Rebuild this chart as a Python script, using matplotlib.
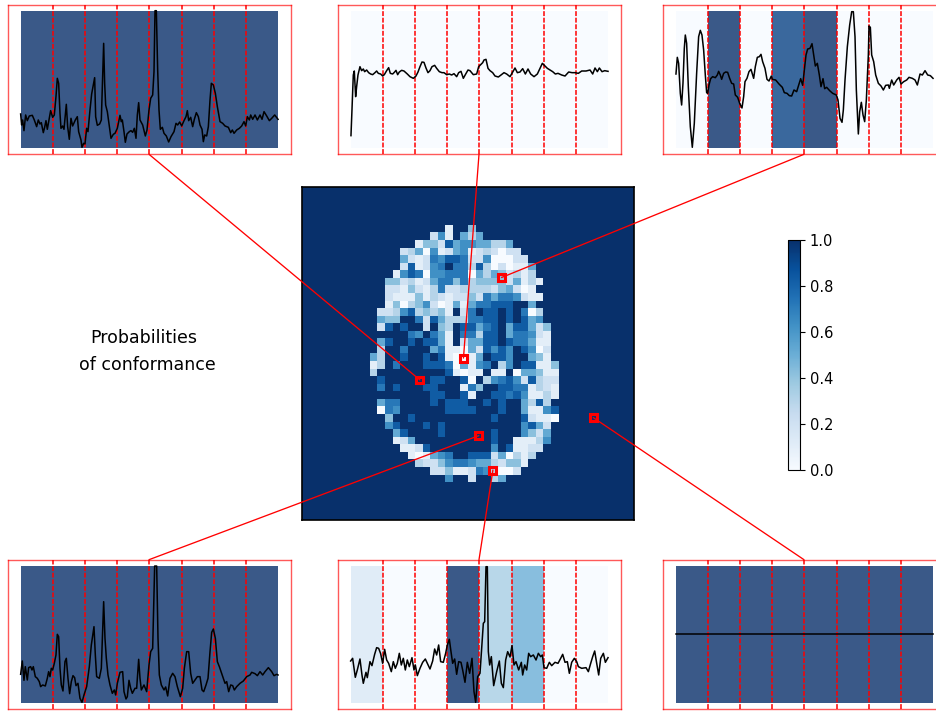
import numpy as np
import matplotlib
matplotlib.use("Agg")
import matplotlib.pyplot as plt
from matplotlib.patches import Rectangle, ConnectionPatch

W, H = 936, 711

# map of probabilities, each digit is an index in levels, everything else is 1.0
levels = [0, 0.1, 0.2, 0.3, 0.42, 0.52, 0.63, 0.72, 0.83, 1.0]
brain_start = [19, 17, 15, 13, 13, 13, 12, 11, 11, 11, 11, 10, 10, 10, 10, 10, 10, 9, 9, 9,
               10, 10, 10, 10, 10, 11, 11, 12, 12, 13, 14, 15, 17, 19]
brain_rows = [
    "1994", "2619535", "1442856655335", "2350612561232022", "52127688722600022",
    "281267977383020115", "1687066777053542313", "442312577473444425131",
    "22142137223333245201", "211141321224275776211", "14034620151577888995",
    "2236834341927988989703", "5449972853337788989856", "28989929439885789588524",
    "99997697519773889577621", "58998988519255889877511", "39979995711052868698602",
    "539989989810015988699541", "1397999888705167936988114", "3999999999810119119055411",
    "899999988998093678628322", "798999889991749988771321", "999999988998199887861131",
    "577999989888998989953839", "076999999888899989951168", "49989999999999899982110",
    "6899989899999999996852", "589999899999989996425", "125999999999989911136",
    "1128999999996981122", "10156799888250313", "322467765532441", "224112763002", "69929935",
]
first_row = 5

# picked voxels (col, row) in image coordinates
voxels = [(15.13, 25.0), (20.9, 22.1), (25.95, 11.46), (22.94, 32.35), (24.8, 36.9), (38.1, 29.97)]

# probability of each of the 8 windows
probas = [
    [1, 1, 1, 1, 1, 1, 1, 1],
    [0, 0, 0, 0, 0, 0, 0, 0],
    [0, 1, 0, 0.93, 1, 0, 0, 0],
    [1, 1, 1, 1, 1, 1, 1, 1],
    [0.15, 0, 0, 1, 0.35, 0.5, 0, 0],
    [1, 1, 1, 1, 1, 1, 1, 1],
]

# signals (x, y on a 847 x 449 frame, y going down)
sig1_x = [62, 65, 68, 72, 77, 82, 88, 97, 103, 110, 115, 120, 124, 130, 134, 138, 142, 146, 152, 158, 163, 168, 172, 176, 180, 183, 188, 192, 199, 203, 208, 213, 218, 226, 232, 236, 243, 246, 251, 255, 260, 264, 270, 275, 284, 287, 292, 299, 304, 311, 314, 317, 322, 328, 333, 340, 345, 352, 360, 364, 367, 372, 376, 381, 388, 393, 398, 403, 408, 412, 416, 420, 428, 436, 441, 447, 452, 458, 462, 465, 469, 473, 477, 481, 487, 492, 499, 506, 513, 522, 528, 533, 539, 545, 552, 558, 562, 566, 572, 578, 583, 589, 595, 600, 606, 610, 614, 620, 625, 630, 634, 640, 646, 652, 660, 668, 675, 685, 692, 697, 702, 710, 718, 725, 732, 737, 742, 748, 752, 758, 765, 772, 780, 786, 792, 800, 808, 815, 824, 834]
sig1_y = [342, 375, 360, 392, 345, 362, 348, 346, 360, 380, 360, 372, 368, 398, 382, 362, 388, 365, 332, 352, 345, 290, 235, 250, 340, 385, 378, 388, 313, 380, 418, 355, 378, 360, 350, 395, 420, 442, 430, 432, 385, 395, 330, 282, 233, 350, 376, 372, 360, 130, 250, 315, 335, 380, 415, 403, 400, 385, 346, 365, 360, 395, 427, 402, 395, 392, 397, 385, 415, 345, 308, 360, 375, 408, 390, 330, 295, 285, 215, 32, 32, 210, 330, 388, 382, 400, 408, 426, 410, 395, 370, 375, 366, 378, 362, 350, 332, 362, 352, 380, 358, 338, 350, 375, 388, 425, 405, 408, 380, 300, 250, 255, 280, 320, 365, 370, 378, 382, 398, 390, 400, 390, 385, 378, 365, 378, 350, 360, 345, 358, 345, 360, 345, 358, 335, 348, 362, 355, 345, 358]

sig2_x = [63, 66, 70, 73, 77, 80, 84, 90, 95, 100, 104, 110, 116, 122, 128, 135, 140, 145, 152, 158, 163, 170, 176, 181, 188, 194, 198, 203, 208, 215, 222, 232, 240, 250, 258, 264, 270, 276, 282, 288, 294, 300, 306, 314, 320, 328, 336, 342, 350, 358, 365, 372, 380, 386, 393, 400, 406, 414, 420, 430, 440, 446, 452, 458, 462, 468, 474, 480, 488, 495, 505, 513, 522, 530, 540, 547, 555, 562, 570, 578, 586, 594, 602, 612, 622, 630, 637, 645, 652, 660, 668, 676, 684, 695, 705, 716, 726, 735, 745, 755, 768, 780, 788, 795, 802, 808, 816, 824, 834]
sig2_y = [407, 330, 225, 213, 290, 260, 225, 200, 212, 207, 215, 210, 218, 222, 224, 218, 213, 220, 222, 228, 224, 212, 203, 220, 222, 216, 211, 224, 216, 211, 213, 222, 230, 235, 228, 216, 200, 186, 187, 204, 218, 212, 200, 196, 205, 215, 218, 218, 224, 222, 225, 221, 230, 218, 214, 235, 224, 210, 212, 224, 222, 200, 194, 188, 180, 178, 205, 212, 218, 228, 231, 225, 218, 222, 230, 218, 204, 218, 216, 206, 222, 207, 222, 230, 222, 205, 190, 198, 205, 210, 215, 222, 220, 225, 228, 216, 218, 218, 220, 213, 213, 210, 222, 204, 215, 204, 215, 212, 214]

sig3_x = [63, 67, 71, 76, 80, 84, 88, 91, 95, 100, 106, 112, 118, 125, 131, 136, 141, 146, 151, 155, 158, 162, 167, 173, 181, 187, 191, 196, 200, 206, 212, 218, 224, 230, 236, 241, 248, 254, 261, 266, 270, 276, 282, 288, 296, 301, 307, 313, 318, 323, 330, 336, 342, 349, 352, 362, 372, 382, 388, 396, 403, 410, 417, 425, 432, 437, 443, 448, 453, 458, 465, 471, 476, 481, 487, 493, 498, 504, 509, 515, 524, 533, 544, 549, 555, 561, 565, 570, 577, 584, 590, 595, 600, 604, 610, 614, 619, 624, 629, 634, 640, 642, 646, 650, 656, 662, 670, 678, 685, 692, 700, 703, 710, 716, 725, 732, 738, 746, 755, 762, 772, 780, 787, 795, 802, 810, 818, 826, 834]
sig3_y = [222, 172, 190, 280, 315, 250, 145, 105, 130, 260, 380, 442, 370, 220, 110, 91, 105, 150, 225, 278, 280, 255, 236, 230, 233, 225, 214, 225, 238, 220, 216, 217, 235, 250, 252, 285, 292, 310, 324, 290, 245, 235, 215, 208, 235, 200, 172, 170, 163, 185, 205, 238, 243, 228, 238, 240, 252, 262, 278, 280, 287, 288, 270, 275, 252, 236, 256, 210, 165, 147, 145, 131, 165, 198, 190, 225, 260, 236, 266, 262, 272, 280, 285, 300, 355, 367, 330, 240, 140, 75, 35, 35, 110, 270, 402, 335, 307, 345, 365, 300, 165, 78, 82, 165, 185, 225, 250, 258, 270, 256, 255, 265, 240, 255, 240, 232, 252, 245, 240, 232, 235, 240, 255, 222, 225, 212, 225, 227, 235]

sig4_x = [62, 67, 72, 76, 82, 86, 92, 96, 100, 106, 112, 118, 122, 128, 136, 142, 146, 150, 154, 158, 163, 168, 172, 176, 180, 184, 189, 195, 199, 204, 209, 214, 219, 224, 228, 234, 240, 246, 252, 260, 268, 274, 282, 286, 290, 298, 304, 311, 315, 319, 324, 330, 337, 343, 347, 352, 360, 368, 372, 378, 382, 387, 392, 397, 405, 410, 416, 420, 424, 432, 440, 447, 452, 458, 464, 470, 474, 478, 484, 492, 497, 503, 510, 518, 525, 532, 541, 548, 553, 560, 566, 572, 578, 585, 592, 600, 606, 611, 618, 624, 630, 635, 640, 646, 652, 658, 668, 675, 680, 686, 692, 698, 703, 710, 720, 730, 740, 750, 755, 765, 772, 780, 788, 795, 805, 815, 822, 830, 834]
sig4_y = [358, 318, 376, 335, 375, 338, 335, 345, 335, 365, 370, 380, 395, 390, 393, 370, 350, 365, 340, 345, 325, 300, 238, 245, 340, 390, 408, 320, 310, 370, 416, 380, 362, 368, 392, 385, 430, 442, 420, 395, 335, 270, 215, 300, 365, 370, 340, 140, 250, 310, 360, 390, 415, 405, 420, 385, 352, 350, 410, 432, 425, 376, 400, 415, 400, 400, 313, 370, 405, 390, 410, 330, 290, 280, 33, 33, 250, 360, 390, 405, 396, 423, 370, 355, 365, 395, 425, 400, 340, 290, 290, 355, 385, 375, 365, 365, 405, 410, 390, 370, 290, 232, 222, 250, 320, 335, 365, 385, 380, 410, 390, 392, 405, 395, 385, 378, 365, 360, 352, 356, 362, 350, 360, 350, 338, 350, 362, 358, 360]

sig5_x = [62, 68, 76, 82, 90, 96, 100, 108, 112, 120, 126, 134, 140, 146, 152, 158, 164, 170, 176, 184, 190, 196, 202, 208, 214, 220, 226, 232, 238, 246, 252, 256, 262, 270, 278, 286, 292, 300, 308, 314, 320, 326, 332, 340, 347, 352, 358, 363, 368, 374, 380, 386, 393, 398, 405, 412, 419, 426, 432, 437, 443, 450, 455, 460, 464, 468, 472, 475, 479, 484, 491, 500, 508, 514, 520, 527, 533, 540, 546, 552, 558, 566, 574, 578, 584, 590, 596, 602, 610, 618, 625, 632, 637, 642, 650, 658, 665, 675, 684, 692, 698, 705, 712, 718, 725, 733, 740, 745, 755, 768, 775, 782, 788, 794, 800, 806, 812, 820, 826, 834]
sig5_y = [318, 310, 367, 345, 312, 360, 385, 352, 368, 320, 332, 298, 278, 280, 296, 325, 283, 315, 325, 350, 320, 340, 325, 295, 330, 310, 345, 315, 335, 308, 345, 330, 362, 340, 322, 312, 325, 342, 318, 282, 300, 270, 320, 322, 295, 270, 253, 290, 325, 312, 358, 320, 322, 345, 382, 322, 355, 310, 410, 442, 365, 355, 280, 205, 200, 35, 35, 290, 330, 305, 392, 350, 318, 385, 398, 315, 290, 306, 272, 330, 320, 345, 322, 360, 330, 345, 295, 305, 300, 315, 295, 305, 300, 338, 340, 322, 332, 322, 325, 310, 298, 322, 320, 355, 322, 310, 320, 335, 340, 338, 350, 325, 305, 288, 325, 360, 310, 295, 322, 308]

sig6_x = [62, 834]
sig6_y = [238, 238]

signals = [(sig1_x, sig1_y), (sig2_x, sig2_y), (sig3_x, sig3_y),
           (sig4_x, sig4_y), (sig5_x, sig5_y), (sig6_x, sig6_y)]

# position of the frames in pixels
frame_left = [8.3, 338.3, 663.3, 8.3, 338.3, 663.3]
frame_top = [4.7, 4.7, 4.7, 559.7, 559.7, 559.7]
frame_w = 282.4
frame_h = 149.6


def add_axes_px(fig, x0, y0, w, h):
    return fig.add_axes([x0 / W, 1 - (y0 + h) / H, w / W, h / H])


grid = np.ones((44, 44))
for i, row in enumerate(brain_rows):
    vals = [levels[int(c)] for c in row]
    grid[first_row + i, brain_start[i]:brain_start[i] + len(vals)] = vals

fig = plt.figure(figsize=(W / 100, H / 100), dpi=100)
cmap = plt.get_cmap("Blues")

ax = add_axes_px(fig, 302, 187, 332, 333)
im = ax.imshow(grid, cmap=cmap, vmin=0, vmax=1, aspect="auto", interpolation="nearest")
ax.set_xticks([])
ax.set_yticks([])
for s in ax.spines.values():
    s.set_linewidth(1.2)

for c, r in voxels:
    ax.add_patch(Rectangle((c - 0.46, r - 0.46), 0.92, 0.92, fill=False,
                           edgecolor="red", linewidth=2.2, zorder=5))

# the 6 signals
edges = np.linspace(62, 834, 9)
for k in range(6):
    a = add_axes_px(fig, frame_left[k], frame_top[k], frame_w, frame_h)
    a.set_xlim(25, 872)
    a.set_ylim(463, 14)
    a.set_xticks([])
    a.set_yticks([])
    for s in a.spines.values():
        s.set_edgecolor("red")
        s.set_alpha(0.65)
        s.set_linewidth(1.0)
    for j in range(8):
        a.axvspan(edges[j], edges[j + 1], ymin=(463 - 444) / 449, ymax=(463 - 32) / 449,
                  color=cmap(float(probas[k][j])), alpha=0.8, linewidth=0)
    for e in edges[1:-1]:
        a.axvline(e, color="red", linestyle=(0, (3.2, 1.1)), linewidth=1.1)
    a.plot(signals[k][0], signals[k][1], color="black", linewidth=1.1)

    # line up to the voxel
    y_end = 463 if k < 3 else 14
    con = ConnectionPatch(xyA=(447, y_end), coordsA=a.transData,
                          xyB=voxels[k], coordsB=ax.transData,
                          color="red", linewidth=0.95)
    fig.add_artist(con)

# colorbar
cax = add_axes_px(fig, 788, 240, 12, 230)
cb = fig.colorbar(im, cax=cax)
cb.set_ticks([0, 0.2, 0.4, 0.6, 0.8, 1.0])
cb.ax.tick_params(labelsize=10.5)

fig.text(143.5 / W, 1 - 338.5 / H, "Probabilities", ha="center", va="center", fontsize=12.5)
fig.text(147.5 / W, 1 - 365 / H, "of conformance", ha="center", va="center", fontsize=12.5)

plt.savefig("out.png", dpi=100)
